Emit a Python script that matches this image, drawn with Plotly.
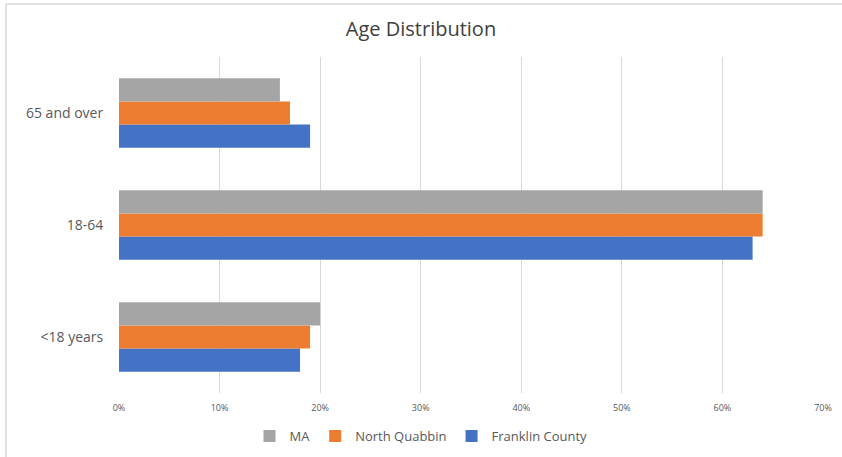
import plotly.graph_objects as go

categories = ["<18 years", "18-64", "65 and over"]
franklin_county = [18, 63, 19]
north_quabbin = [19, 64, 17]
ma = [20, 64, 16]

x_ticks = [0, 10, 20, 30, 40, 50, 60, 70]
x_tick_labels = ["0%", "10%", "20%", "30%", "40%", "50%", "60%", "70%"]

FONT = "Open Sans"
TEXT_COLOR = "#595959"

fig = go.Figure()
for name, values, color in [
    ("Franklin County", franklin_county, "#4472C4"),
    ("North Quabbin", north_quabbin, "#ED7D31"),
    ("MA", ma, "#A5A5A5"),
]:
    fig.add_trace(
        go.Bar(
            y=categories,
            x=values,
            name=name,
            orientation="h",
            marker=dict(color=color, line=dict(width=0)),
        )
    )

W, H = 842, 457
ml, mr, mt, mb = 119, 19, 57, 64
pw, ph = W - ml - mr, H - mt - mb


def px_x(p):
    return (p - ml) / pw


def px_y(p):
    return 1 - (p - mt) / ph


fig.update_layout(
    width=W,
    height=H,
    margin=dict(l=ml, r=mr, t=mt, b=mb),
    barmode="group",
    bargap=0.38,
    bargroupgap=0,
    paper_bgcolor="white",
    plot_bgcolor="white",
    font=dict(family=FONT, color=TEXT_COLOR),
    title=dict(
        text="Age Distribution",
        x=0.5,
        xanchor="center",
        xref="container",
        y=1 - 29 / H,
        yref="container",
        yanchor="middle",
        font=dict(family=FONT, size=20, color="#404040"),
    ),
    legend=dict(
        orientation="h",
        traceorder="reversed",
        x=0.5,
        xanchor="center",
        xref="container",
        y=1 - 436 / H,
        yref="container",
        yanchor="middle",
        font=dict(family=FONT, size=13, color=TEXT_COLOR),
        itemwidth=30,
    ),
    shapes=[
        dict(type="line", xref="paper", yref="paper",
             x0=px_x(6), x1=px_x(842), y0=px_y(4), y1=px_y(4),
             line=dict(color="#D9D9D9", width=1.5)),
        dict(type="line", xref="paper", yref="paper",
             x0=px_x(6), x1=px_x(6), y0=px_y(4), y1=px_y(457),
             line=dict(color="#D9D9D9", width=1.5)),
    ],
)

fig.update_xaxes(
    range=[0, 70],
    tickmode="array",
    tickvals=x_ticks,
    ticktext=x_tick_labels,
    tickfont=dict(family=FONT, size=9, color=TEXT_COLOR),
    ticklabelstandoff=8,
    automargin=False,
    showgrid=True,
    gridcolor="#D9D9D9",
    gridwidth=1,
    zeroline=False,
    showline=False,
    ticks="",
)
fig.update_yaxes(
    tickfont=dict(family=FONT, size=14, color=TEXT_COLOR),
    automargin=False,
    showgrid=False,
    zeroline=False,
    showline=False,
    ticks="outside",
    ticklen=12,
    tickcolor="white",
)

# the page body has a default 8px margin; drop it so the figure fills the window
fig.write_html(
    "out.html",
    config={"displayModeBar": False},
    post_script="document.body.style.margin='0';",
)
